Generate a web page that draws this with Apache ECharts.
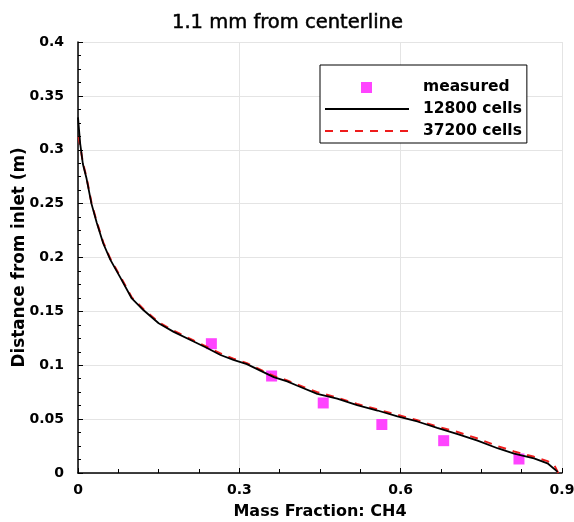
<!DOCTYPE html>
<html>
<head>
<meta charset="utf-8">
<script src="https://cdn.jsdelivr.net/npm/echarts@6/dist/echarts.min.js"></script>
<style>
html,body{margin:0;padding:0;background:#fff;}
#chart{width:574px;height:522px;}
</style>
</head>
<body>
<div id="chart"></div>
<script>
// ---- data ----
const titleText = '1.1 mm from centerline';
const xAxisName = 'Mass Fraction: CH4';
const yAxisName = 'Distance from inlet (m)';
const seriesNames = ['measured', '12800 cells', '37200 cells'];

const measured = [
  [0.248, 0.120], [0.360, 0.090], [0.456, 0.065],
  [0.565, 0.045], [0.680, 0.030], [0.820, 0.013]
];

const cells12800 = [
  [0.000,0.330],[0.002,0.318],[0.004,0.306],[0.009,0.287],[0.016,0.273],[0.025,0.250],
  [0.035,0.232],[0.047,0.213],[0.060,0.198],[0.078,0.182],[0.100,0.162],[0.122,0.151],
  [0.150,0.139],[0.178,0.131],[0.215,0.122],[0.240,0.116],[0.265,0.1095],[0.289,0.105],
  [0.314,0.101],[0.339,0.095],[0.364,0.089],[0.389,0.085],[0.408,0.081],[0.445,0.0735],
  [0.482,0.069],[0.519,0.063],[0.557,0.058],[0.594,0.0525],[0.631,0.0478],[0.668,0.0418],
  [0.706,0.036],[0.743,0.030],[0.780,0.023],[0.811,0.018],[0.848,0.0135],[0.873,0.009],
  [0.892,0.001]
];

const cells37200 = [
  [0.001,0.312],[0.004,0.304],[0.009,0.288],[0.016,0.274],[0.025,0.251],[0.035,0.233],
  [0.047,0.214],[0.060,0.199],[0.078,0.183],[0.100,0.163],[0.122,0.152],[0.150,0.140],
  [0.178,0.132],[0.215,0.123],[0.240,0.117],[0.265,0.111],[0.289,0.106],[0.314,0.102],
  [0.339,0.096],[0.364,0.090],[0.389,0.086],[0.408,0.082],[0.445,0.075],[0.482,0.070],
  [0.519,0.064],[0.557,0.059],[0.594,0.054],[0.631,0.049],[0.668,0.043],[0.706,0.038],
  [0.743,0.032],[0.780,0.025],[0.811,0.020],[0.848,0.015],[0.873,0.011],[0.886,0.007],
  [0.893,0.000]
];

const xMin = 0, xMax = 0.9, xStep = 0.3;
const yMin = 0, yMax = 0.4, yStep = 0.05;

// ---- chart ----
const chart = echarts.init(document.getElementById('chart'), null, {renderer: 'canvas'});
const FONT = 'DejaVu Sans';
const gridLine = {show: true, lineStyle: {color: '#e4e4e4', width: 1}};

chart.setOption({
  animation: false,
  backgroundColor: '#fff',
  title: {
    text: titleText,
    left: 167, top: 8,
    textStyle: {fontFamily: FONT, fontSize: 19.5, fontWeight: 'normal', color: '#000', textBorderColor: '#000', textBorderWidth: 0.5}
  },
  grid: {left: 78, right: 12, top: 42, bottom: 49, containLabel: false, outerBoundsMode: 'none'},
  legend: {
    left: 320, top: 65,
    orient: 'vertical',
    padding: [14, 5, 4, 4],
    borderColor: '#000', borderWidth: 1,
    backgroundColor: '#fff',
    itemWidth: 84, itemHeight: 14, itemGap: 6,
    align: 'left',
    textStyle: {fontFamily: FONT, fontSize: 15.5, fontWeight: 'bold', color: '#000', padding: [0, 0, 0, 9], lineHeight: 14},
    data: [
      {name: seriesNames[0], icon: 'path://M0,0L0,0.01M84,14L84,13.99M36,2h11v11h-11z'},
      {name: seriesNames[1], itemStyle: {opacity: 0}},
      {name: seriesNames[2], itemStyle: {opacity: 0}}
    ]
  },
  xAxis: {
    type: 'value', min: xMin, max: xMax, interval: xStep,
    name: xAxisName, nameLocation: 'middle', nameGap: 31, nameMoveOverlap: false,
    nameTextStyle: {fontFamily: FONT, fontSize: 16, fontWeight: 'bold', color: '#000'},
    axisLine: {show: true, onZero: false, lineStyle: {color: '#000', width: 1.5}},
    axisTick: {show: true, inside: true, length: 5, lineStyle: {color: '#000'}},
    minorTick: {show: true, splitNumber: 4, length: 4, lineStyle: {color: '#000'}},
    axisLabel: {fontFamily: FONT, fontSize: 14, fontWeight: 'bold', color: '#000', margin: 10},
    splitLine: gridLine
  },
  yAxis: {
    type: 'value', min: yMin, max: yMax, interval: yStep,
    name: yAxisName, nameLocation: 'middle', nameGap: 50, nameMoveOverlap: false,
    nameTextStyle: {fontFamily: FONT, fontSize: 16.8, fontWeight: 'bold', color: '#000'},
    axisLine: {show: true, onZero: false, lineStyle: {color: '#000', width: 1.5}},
    axisTick: {show: true, inside: true, length: 5, lineStyle: {color: '#000'}},
    minorTick: {show: true, splitNumber: 4, length: 3, lineStyle: {color: '#000'}},
    axisLabel: {fontFamily: FONT, fontSize: 14, fontWeight: 'bold', color: '#000', margin: 14},
    splitLine: gridLine
  },
  series: [
    {
      name: seriesNames[0], type: 'scatter', data: measured,
      symbol: 'rect', symbolSize: 11,
      itemStyle: {color: '#ff44ff', opacity: 1}, z: 2
    },
    {
      name: seriesNames[2], type: 'line', data: cells37200,
      symbol: 'none', showSymbol: false, smooth: false,
      itemStyle: {color: '#ee1c1c'},
      lineStyle: {color: '#ee1c1c', width: 2, type: [8, 7]}, z: 3
    },
    {
      name: seriesNames[1], type: 'line', data: cells12800,
      symbol: 'none', showSymbol: false, smooth: false,
      itemStyle: {color: '#000'},
      lineStyle: {color: '#000', width: 1.8}, z: 4
    }
  ]
});
</script>
</body>
</html>
